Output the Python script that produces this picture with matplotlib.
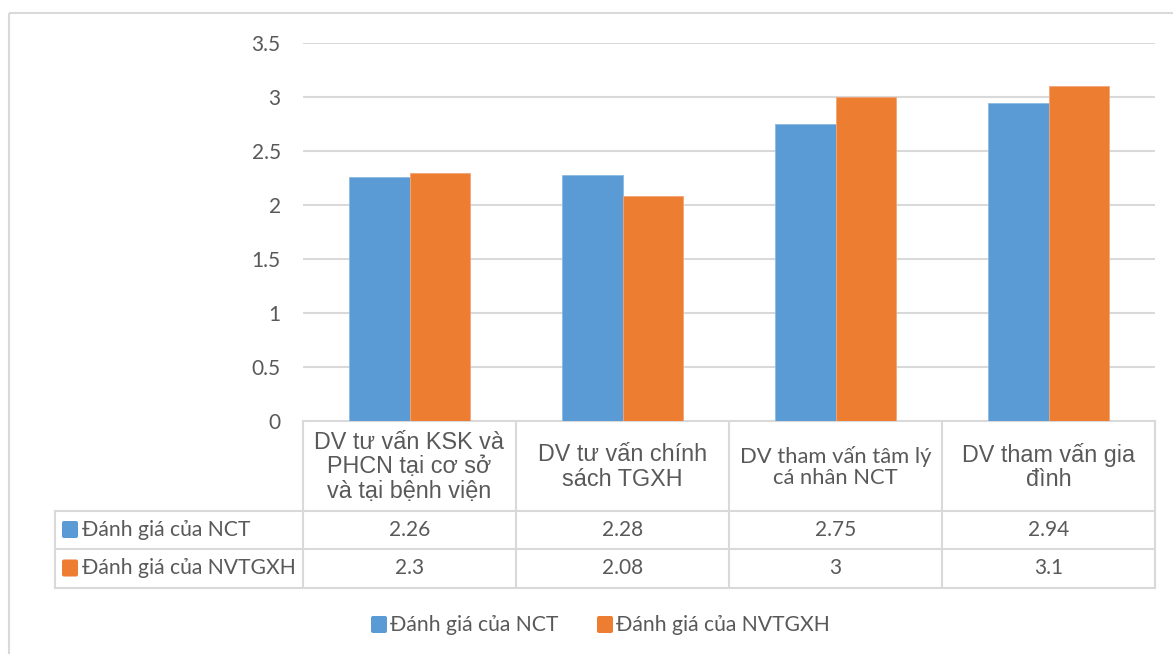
import numpy as np
import matplotlib
matplotlib.use('Agg')
import matplotlib.pyplot as plt
from matplotlib.patches import Rectangle, FancyBboxPatch

# data
categories = ['DV tư vấn KSK và\nPHCN tại cơ sở\nvà tại bệnh viện',
              'DV tư vấn chính\nsách TGXH',
              'DV tham vấn tâm lý\ncá nhân NCT',
              'DV tham vấn gia\nđình']
series_names = ['Đánh giá của NCT', 'Đánh giá của NVTGXH']
nct = [2.26, 2.28, 2.75, 2.94]
nvtgxh = [2.3, 2.08, 3, 3.1]
yticks = [0, 0.5, 1, 1.5, 2, 2.5, 3, 3.5]

blue = '#5B9BD5'
orange = '#ED7D31'
txt = '#595959'
grid = '#D9D9D9'
calibri = ['Lato', 'DejaVu Sans']
arial = ['Liberation Sans', 'DejaVu Sans']

W, H = 1173, 654
fig = plt.figure(figsize=(W / 100, H / 100), dpi=100)

# background axes in pixel coords for the frame, table and legend
bg = fig.add_axes([0, 0, 1, 1])
bg.set_xlim(0, W)
bg.set_ylim(H, 0)
bg.axis('off')

bg.add_patch(Rectangle((9, 13), W + 50, H + 50, fill=False, ec=grid, lw=1.5))

# plot area
x0, x1, y0, y1 = 303, 1155, 421, 43
ax = fig.add_axes([x0 / W, (H - y0) / H, (x1 - x0) / W, (y0 - y1) / H])
ax.set_xlim(-0.5, len(categories) - 0.5)
ax.set_ylim(0, 3.5)
bw = 0.286
x = np.arange(len(categories))
ax.bar(x - bw / 2, nct, bw, color=blue, edgecolor='#8DBBE3', linewidth=0.6, zorder=3)
ax.bar(x + bw / 2, nvtgxh, bw, color=orange, edgecolor='#F3A677', linewidth=0.6, zorder=3)
ax.set_yticks(yticks)
ax.set_yticklabels(['{:g}'.format(v) for v in yticks], fontsize=15, color=txt, family=calibri)
ax.tick_params(axis='y', length=0, pad=16)
ax.set_xticks([])
ax.grid(axis='y', color=grid, lw=1.5, zorder=0)
for s in ax.spines.values():
    s.set_visible(False)

# data table
cols = [303, 516, 729, 942, 1155]
rows = [421, 511, 549, 588]
lx = 55
lc = dict(color=grid, lw=1.5)
bg.plot([cols[0], cols[-1]], [rows[0], rows[0]], **lc)
for r in rows[1:]:
    bg.plot([lx, cols[-1]], [r, r], **lc)
for c in cols:
    bg.plot([c, c], [rows[0], rows[-1]], **lc)
bg.plot([lx, lx], [rows[1], rows[-1]], **lc)

head_fonts = [arial, arial, calibri, arial]
head_sizes = [16.8, 16.8, 15.8, 16.8]
for i, cat in enumerate(categories):
    cx = (cols[i] + cols[i + 1]) / 2
    bg.text(cx, (rows[0] + rows[1]) / 2 + 1, cat, ha='center', va='center',
            fontsize=head_sizes[i], family=head_fonts[i], color=txt, linespacing=1.1)

for j, (vals, col, name) in enumerate([(nct, blue, series_names[0]),
                                       (nvtgxh, orange, series_names[1])]):
    cy = (rows[j + 1] + rows[j + 2]) / 2
    bg.add_patch(FancyBboxPatch((62, cy - 9), 16, 17, boxstyle='round,pad=0,rounding_size=2',
                                fc=col, ec='none'))
    bg.text(82, cy, name, ha='left', va='center', fontsize=15.2, family=calibri, color=txt)
    for i, v in enumerate(vals):
        cx = (cols[i] + cols[i + 1]) / 2
        bg.text(cx, cy, '{:g}'.format(v), ha='center', va='center',
                fontsize=15, family=calibri, color=txt)

# legend
leg_y = 625
for name, col, lx0 in [(series_names[0], blue, 370), (series_names[1], orange, 596)]:
    bg.add_patch(FancyBboxPatch((lx0 + 1, leg_y - 9), 16, 17, boxstyle='round,pad=0,rounding_size=2',
                                fc=col, ec='none'))
    bg.text(lx0 + 20, leg_y, name, ha='left', va='center', fontsize=15.2, family=calibri, color=txt)

fig.savefig('out.png', dpi=100)
